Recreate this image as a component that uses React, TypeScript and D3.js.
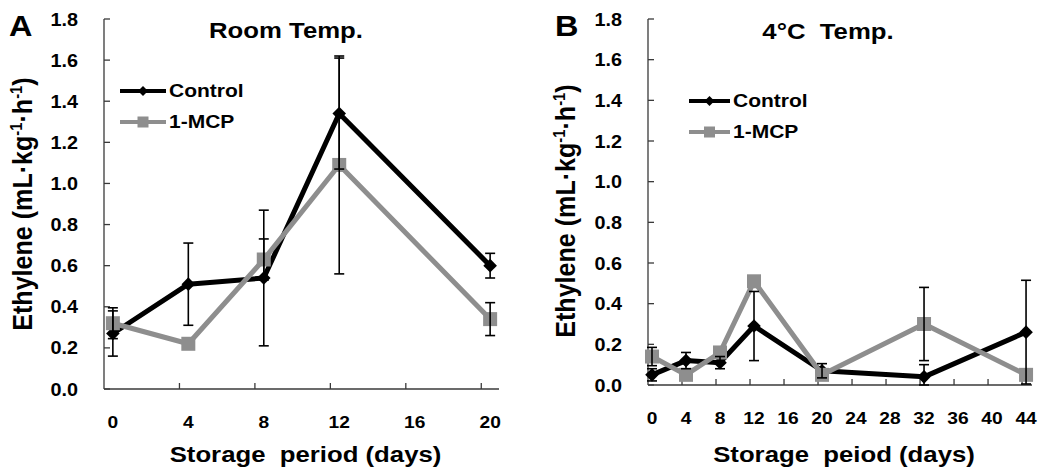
import React from "react";
import * as d3 from "d3";

// ---------- data ----------
const daysA = [0, 4, 8, 12, 20];
const controlA = [0.27, 0.51, 0.54, 1.34, 0.6];
const controlErrA = [0.11, 0.2, 0.33, 0.27, 0.06];
const mcpA = [0.32, 0.22, 0.63, 1.09, 0.34];
const mcpErrA = [0.075, 0, 0.1, 0.53, 0.08];
const xTicksA = [0, 4, 8, 12, 16, 20];

const daysB = [0, 4, 8, 12, 20, 32, 44];
const controlB = [0.05, 0.12, 0.11, 0.29, 0.07, 0.04, 0.26];
const controlErrB = [0.03, 0.04, 0.03, 0.17, 0.035, 0.06, 0.255];
const mcpB = [0.14, 0.05, 0.16, 0.51, 0.05, 0.3, 0.05];
const mcpErrB = [0.045, 0, 0, 0, 0, 0.18, 0];
const xTicksB = [0, 4, 8, 12, 16, 20, 24, 28, 32, 36, 40, 44];

const yTicks = [0, 0.2, 0.4, 0.6, 0.8, 1.0, 1.2, 1.4, 1.6, 1.8];
const seriesNames = ["Control", "1-MCP"];

// ---------- style ----------
const FONT = "'Liberation Sans', Arial, Helvetica, sans-serif";
const GRAY = "#8e8e8e";
const AXIS = "#3a3a3a";
const SX = 1.17;
const TICK_SHIFT = 0.47;

type Pt = { d: number; v: number; e: number };

function T(props: {
  x: number;
  y: number;
  size: number;
  anchor?: "start" | "middle" | "end";
  sx?: number;
  children: React.ReactNode;
}) {
  const { x, y, size, anchor = "start", sx = SX, children } = props;
  return (
    <text
      transform={`translate(${x},${y}) scale(${sx},1)`}
      fontFamily={FONT}
      fontWeight="bold"
      fontSize={size}
      textAnchor={anchor}
      fill="#000"
      style={{ whiteSpace: "pre" }}
    >
      {children}
    </text>
  );
}

function Panel(props: {
  letter: string;
  letterX: number;
  title: string;
  titleX: number;
  titleY: number;
  xRange: [number, number];
  xDomain: [number, number];
  yRange: [number, number];
  days: number[];
  control: number[];
  controlErr: number[];
  mcp: number[];
  mcpErr: number[];
  xTicks: number[];
  xTitle: string;
  yLabelX: number;
  yLabelY: number;
  legendX: number;
  legendY: number;
  legendLen: number;
}) {
  const p = props;
  const x = d3.scaleLinear().domain(p.xDomain).range(p.xRange);
  const y = d3.scaleLinear().domain([0, 1.8]).range(p.yRange);
  const line = d3
    .line<Pt>()
    .x((d) => x(d.d))
    .y((d) => y(d.v));
  const ctl: Pt[] = p.days.map((d, i) => ({ d, v: p.control[i], e: p.controlErr[i] }));
  const mcp: Pt[] = p.days.map((d, i) => ({ d, v: p.mcp[i], e: p.mcpErr[i] }));
  const x0 = p.xRange[0];
  const x1 = p.xRange[1];
  const yb = p.yRange[0];
  const diamond = (cx: number, cy: number, r: number) =>
    `M${cx},${cy - r}L${cx + r},${cy}L${cx},${cy + r}L${cx - r},${cy}Z`;
  const errBars = (pts: Pt[], key: string) =>
    pts
      .filter((pt) => pt.e > 0)
      .map((pt, i) => {
        const cx = x(pt.d);
        const top = y(pt.v + pt.e);
        const bot = y(Math.max(0, pt.v - pt.e));
        return (
          <g key={key + i} stroke="#000" strokeWidth={1.6}>
            <line x1={cx} x2={cx} y1={top} y2={bot} />
            <line x1={cx - 5} x2={cx + 5} y1={top} y2={top} />
            <line x1={cx - 5} x2={cx + 5} y1={bot} y2={bot} />
          </g>
        );
      });
  const lx = p.legendX;
  const ly = p.legendY;
  const lm = lx + p.legendLen / 2;
  return (
    <g>
      {/* axes */}
      <line x1={x0} x2={x0} y1={p.yRange[1]} y2={yb} stroke={AXIS} strokeWidth={1.3} />
      <line x1={x0} x2={x1} y1={yb} y2={yb} stroke={AXIS} strokeWidth={1.3} />
      {yTicks.map((t) => (
        <g key={"yt" + t}>
          <line x1={x0} x2={x0 + 6} y1={y(t)} y2={y(t)} stroke={AXIS} strokeWidth={1.3} />
          <T x={x0 - 26} y={y(t) + 6.5} size={18} anchor="end" sx={1.1}>
            {t.toFixed(1)}
          </T>
        </g>
      ))}
      {p.xTicks.map((t) => (
        <g key={"xt" + t}>
          {t > 0 && (
            <line
              x1={x(t - TICK_SHIFT)}
              x2={x(t - TICK_SHIFT)}
              y1={yb}
              y2={yb - 6}
              stroke={AXIS}
              strokeWidth={1.3}
            />
          )}
          <T x={x(t)} y={yb + 39} size={17} anchor="middle" sx={1.13}>
            {String(t)}
          </T>
        </g>
      ))}
      {/* series */}
      <path d={line(ctl) || ""} fill="none" stroke="#000" strokeWidth={5} strokeLinejoin="round" />
      {ctl.map((pt, i) => (
        <path key={"cd" + i} d={diamond(x(pt.d), y(pt.v), 6.8)} fill="#000" />
      ))}
      <path d={line(mcp) || ""} fill="none" stroke={GRAY} strokeWidth={5} strokeLinejoin="round" />
      {mcp.map((pt, i) => (
        <rect key={"ms" + i} x={x(pt.d) - 7} y={y(pt.v) - 7} width={14} height={14} fill={GRAY} />
      ))}
      {errBars(ctl, "ce")}
      {errBars(mcp, "me")}
      {/* legend */}
      <line x1={lx} x2={lx + p.legendLen} y1={ly} y2={ly} stroke="#000" strokeWidth={4} />
      <path d={diamond(lm, ly, 5)} fill="#000" />
      <T x={lx + p.legendLen + 3} y={ly + 6} size={17.5} sx={1.2}>
        {seriesNames[0]}
      </T>
      <line x1={lx} x2={lx + p.legendLen} y1={ly + 31} y2={ly + 31} stroke={GRAY} strokeWidth={4} />
      <rect x={lm - 5.5} y={ly + 31 - 5.5} width={11} height={11} fill={GRAY} />
      <T x={lx + p.legendLen + 3} y={ly + 37} size={17.5} sx={1.2}>
        {seriesNames[1]}
      </T>
      {/* titles */}
      <T x={p.letterX} y={36} size={29} sx={1.12}>
        {p.letter}
      </T>
      <T x={p.titleX} y={p.titleY} size={22} anchor="middle">
        {p.title}
      </T>
      <T x={(x0 + x1) / 2 + 4} y={462} size={22} anchor="middle">
        {p.xTitle}
      </T>
      <text
        transform={`translate(${p.yLabelX},${p.yLabelY}) rotate(-90) scale(1.14,1.22)`}
        fontFamily={FONT}
        fontWeight="bold"
        fontSize={22}
        textAnchor="middle"
        fill="#000"
      >
        Ethylene (mL·kg
        <tspan dy={-8} fontSize={13}>
          -1
        </tspan>
        <tspan dy={8}>·h</tspan>
        <tspan dy={-8} fontSize={13}>
          -1
        </tspan>
        <tspan dy={8}>)</tspan>
      </text>
    </g>
  );
}

export default function App() {
  return (
    <svg
      width={1050}
      height={473}
      style={{ position: "absolute", left: 0, top: 0, background: "#fff" }}
    >
      <rect width={1050} height={473} fill="#fff" />
      <Panel
        letter="A"
        letterX={9}
        title="Room Temp."
        titleX={286}
        titleY={38}
        xRange={[104, 499]}
        xDomain={[-TICK_SHIFT, 20.47]}
        yRange={[389, 19]}
        days={daysA}
        control={controlA}
        controlErr={controlErrA}
        mcp={mcpA}
        mcpErr={mcpErrA}
        xTicks={xTicksA}
        xTitle="Storage  period (days)"
        yLabelX={32}
        yLabelY={204}
        legendX={120}
        legendY={91}
        legendLen={46}
      />
      <Panel
        letter="B"
        letterX={555}
        title="4°C  Temp."
        titleX={828}
        titleY={39}
        xRange={[648, 1032]}
        xDomain={[-TICK_SHIFT, 44.7]}
        yRange={[385, 19]}
        days={daysB}
        control={controlB}
        controlErr={controlErrB}
        mcp={mcpB}
        mcpErr={mcpErrB}
        xTicks={xTicksB}
        xTitle="Storage  peiod (days)"
        yLabelX={575}
        yLabelY={211}
        legendX={689}
        legendY={101}
        legendLen={41}
      />
    </svg>
  );
}
